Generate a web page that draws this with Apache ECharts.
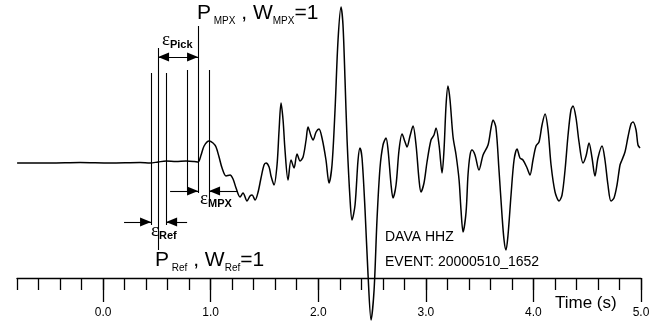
<!DOCTYPE html>
<html>
<head>
<meta charset="utf-8">
<title>DAVA HHZ</title>
<script src="https://cdn.jsdelivr.net/npm/echarts@6/dist/echarts.min.js"></script>
<style>html,body{margin:0;padding:0;background:#fff;}</style>
</head>
<body>
<div id="main" style="width:655px;height:326px;"></div>
<script>
// waveform (time in s, relative amplitude)
var times = [
  -0.799, -0.493, -0.214, 0.065, 0.344, 0.437, 0.511, 0.586, 0.678, 0.771,
  0.846, 0.883, 0.911, 0.939, 0.985, 1.022, 1.050, 1.078, 1.106, 1.143,
  1.180, 1.208, 1.236, 1.273, 1.301, 1.338, 1.366, 1.385, 1.413, 1.441,
  1.468, 1.496, 1.515, 1.543, 1.561, 1.589, 1.617, 1.636, 1.654, 1.673,
  1.691, 1.719, 1.747, 1.775, 1.803, 1.831, 1.859, 1.887, 1.905, 1.933,
  1.952, 1.980, 2.007, 2.035, 2.072, 2.100, 2.128, 2.156, 2.184, 2.212,
  2.230, 2.249, 2.268, 2.296, 2.314, 2.342, 2.370, 2.388, 2.407, 2.435,
  2.463, 2.491, 2.519, 2.546, 2.574, 2.602, 2.630, 2.649, 2.677, 2.695,
  2.723, 2.751, 2.779, 2.807, 2.825, 2.853, 2.881, 2.909, 2.937, 2.955,
  2.983, 3.011, 3.048, 3.076, 3.095, 3.123, 3.151, 3.169, 3.188, 3.206,
  3.225, 3.253, 3.281, 3.309, 3.327, 3.346, 3.374, 3.392, 3.411, 3.429,
  3.457, 3.494, 3.532, 3.578, 3.606, 3.625, 3.652, 3.680, 3.708, 3.727,
  3.745, 3.764, 3.792, 3.820, 3.848, 3.875, 3.903, 3.941, 3.968, 3.996,
  4.024, 4.052, 4.080, 4.108, 4.136, 4.164, 4.201, 4.238, 4.266, 4.294,
  4.322, 4.349, 4.368, 4.396, 4.424, 4.461, 4.489, 4.517, 4.545, 4.572,
  4.600, 4.638, 4.665, 4.693, 4.721, 4.749, 4.777, 4.805, 4.823, 4.851,
  4.879, 4.907, 4.926, 4.954, 4.972, 4.991
];
var amps = [
  -1, -1, -0.5, -1, -0.5, -1, 0, 1, 0.5, 1,
  0.5, 0, 7, 16, 21, 19, 15, 5, -6, -14,
  -13, -17, -26, -35, -31, -39, -34, -33, -38, -30,
  -16, -3, -1, -5, -14, -23, -3, 32, 59, 42,
  12, -18, 2, -6, 8, 1, 5, 22, 35, 26,
  22, 30, 33, 24, 2, -21, -3, 52, 122, 155,
  137, 82, 22, -38, -58, -43, 2, 14, 4, -48,
  -113, -158, -128, -58, -6, 17, 24, 12, -23, -36,
  -23, 12, 28, 20, 15, 26, 36, 17, -18, -30,
  -21, 0, 22, 27, 34, 17, -11, 12, 57, 76,
  62, 25, 7, -18, -48, -70, -50, -13, 7, 12,
  7, -8, 7, 17, 34, 42, 34, -8, -53, -78,
  -88, -73, -33, 2, 13, 4, 2, -6, -13, 2,
  16, 20, 37, 48, 32, -3, -30, -39, -33, -8,
  27, 52, 56, 44, 20, -1, 6, 19, 4, -14,
  4, 16, 2, -23, -39, -36, -23, -3, 2, 10,
  25, 38, 40, 32, 17, 14
];

// pick lines: Ref-eps, P_Ref, Ref+eps, MPX-eps, P_MPX, MPX+eps
var pickTimes = [0.446, 0.511, 0.586, 0.781, 0.883, 0.985];
var pickTop = [89, 114, 89, 92, 136, 92];
var pickBottom = [-63, -88, -63, -29, -31, -38];

// arrows: [from, to, level, both ends?]
var arrows = [
  [0.511, 0.883, 105, true],   // eps Pick
  [0.623, 0.883, -29, false],  // eps MPX left
  [1.245, 0.985, -29, false],  // eps MPX right
  [0.195, 0.446, -60, false],  // eps Ref left
  [0.781, 0.586, -60, false]   // eps Ref right
];

var majorTicks = [0, 1, 2, 3, 4, 5];

var chart = echarts.init(document.getElementById('main'));

var markData = [];
pickTimes.forEach(function (t, i) {
  markData.push([{ coord: [t, pickTop[i]] }, { coord: [t, pickBottom[i]] }]);
});
arrows.forEach(function (a) {
  markData.push([{ coord: [a[0], a[2]] }, { coord: [a[1], a[2]] }]);
});

var axisStyle = { color: '#000', width: 1.3 };
var font = 'Liberation Sans';

chart.setOption({
  animation: false,
  grid: { left: 17, right: 14, top: 0, bottom: 48 },
  xAxis: [
    {
      type: 'value', position: 'bottom', min: -0.8, max: 5.0, interval: 0.2,
      axisLine: { show: true, onZero: false, lineStyle: axisStyle },
      axisTick: { show: true, length: 12, lineStyle: axisStyle },
      axisLabel: { show: false },
      splitLine: { show: false }
    },
    {
      type: 'value', position: 'bottom', min: -0.8, max: 5.0,
      axisLine: { show: false, onZero: false },
      axisTick: { show: true, length: 24, customValues: majorTicks, lineStyle: axisStyle },
      axisLabel: {
        customValues: majorTicks, margin: 29, color: '#000', fontSize: 12, fontFamily: font,
        formatter: function (v) { return v.toFixed(1); }
      },
      splitLine: { show: false }
    }
  ],
  yAxis: { type: 'value', min: -116, max: 162, show: false },
  series: [{
    type: 'line',
    xAxisIndex: 0,
    data: times.map(function (t, i) { return [t, amps[i]]; }),
    symbol: 'none',
    smooth: 0.3,
    clip: false,
    lineStyle: { color: '#000', width: 1.5 },
    markLine: {
      silent: true,
      symbol: 'none',
      label: { show: false },
      lineStyle: { color: '#000', width: 1.1, type: 'solid' },
      emphasis: { disabled: true },
      data: markData
    }
  }]
});

// arrow heads, tip exactly on the pick line
function head(t, level, dir) {
  var p = chart.convertToPixel({ xAxisIndex: 0, yAxisIndex: 0 }, [t, level]);
  return {
    type: 'polygon', silent: true,
    shape: { points: [[p[0], p[1]], [p[0] - dir * 11, p[1] - 4.5], [p[0] - dir * 11, p[1] + 4.5]] },
    style: { fill: '#000' }
  };
}
var heads = [];
arrows.forEach(function (a) {
  var dir = a[1] > a[0] ? 1 : -1;
  heads.push(head(a[1], a[2], dir));
  if (a[3]) heads.push(head(a[0], a[2], -dir));
});

var subStyle = { fontSize: 10, fontFamily: font, lineHeight: 10, verticalAlign: 'bottom', fill: '#000' };
var mainStyle = { fontSize: 21, fontFamily: font, lineHeight: 25, fill: '#000' };
var epsStyle = { fontSize: 19, fontFamily: 'Liberation Serif', lineHeight: 19, fill: '#000' };
var epsSub = { fontSize: 11, fontWeight: 'bold', fontFamily: font, lineHeight: 11, verticalAlign: 'bottom', fill: '#000' };

var labels = [
  { type: 'text', left: 197, top: 3,
    style: { text: '{m|P}{s| MPX}{m| , W}{s|MPX}{m|=1}', rich: { m: mainStyle, s: subStyle } } },
  { type: 'text', left: 155, top: 250,
    style: { text: '{m|P}{s| Ref}{m| , W}{s|Ref}{m|=1}', rich: { m: mainStyle, s: subStyle } } },
  { type: 'text', left: 162, top: 31,
    style: { text: '{e|ε}{b|Pick}', rich: { e: epsStyle, b: epsSub } } },
  { type: 'text', left: 200, top: 190,
    style: { text: '{e|ε}{b|MPX}', rich: { e: epsStyle, b: epsSub } } },
  { type: 'text', left: 151, top: 222,
    style: { text: '{e|ε}{b|Ref}', rich: { e: epsStyle, b: epsSub } } },
  { type: 'text', left: 385, top: 230,
    style: { text: 'DAVA HHZ', fontSize: 14, fontFamily: font, fill: '#000' } },
  { type: 'text', left: 385, top: 255,
    style: { text: 'EVENT: 20000510_1652', fontSize: 14, fontFamily: font, fill: '#000' } },
  { type: 'text', left: 555, top: 295,
    style: { text: 'Time (s)', fontSize: 17, fontFamily: font, fill: '#000' } }
];

chart.setOption({ graphic: labels.concat(heads) });
</script>
</body>
</html>
